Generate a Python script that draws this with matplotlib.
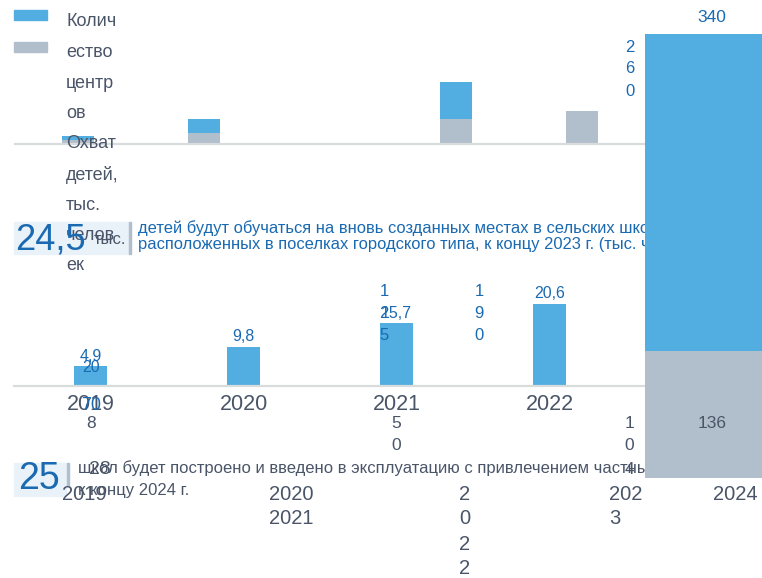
import matplotlib
matplotlib.use("Agg")
import matplotlib.pyplot as plt
from matplotlib.patches import Rectangle

plt.rcParams['font.family'] = ['Liberation Sans', 'DejaVu Sans']

# top chart: number of centers (blue) and coverage (gray), stacked
years_top = ['2019', '2020', '2021', '2022', '2023']
centers_top = [4, 14, 0, 37, 0]
coverage_top = [4, 11, 0, 25, 33]

# big 2024 bar
centers_2024 = 340
coverage_2024 = 136

# middle chart: children in new places
years_mid = ['2019', '2020', '2021', '2022']
children_new = [4.9, 9.8, 15.7, 20.6]
children_labels = ['4,9', '9,8', '15,7', '20,6']

legend_lines = ['Колич', 'ество', 'центр', 'ов', 'Охват', 'детей,', 'тыс.', 'челов', 'ек']
text_blue = ['детей будут обучаться на вновь созданных местах в сельских школах,',
             'расположенных в поселках городского типа, к концу 2023 г. (тыс. чел.)']
text_gray = ['школ будет построено и введено в эксплуатацию с привлечением частных',
             'к концу 2024 г.']

BLUE = '#52aee0'
GRAY = '#b1bfcc'
TBLUE = '#1a6ab2'
TGRAY = '#4a5568'
LINE = '#d9dcdc'

W, H = 762, 578
fig = plt.figure(figsize=(W / 100, H / 100), dpi=100)


def fx(x):
    return x / W


def fy(y):
    return 1 - y / H


def ft(x, y, s, **kw):
    kw.setdefault('va', 'center')
    fig.text(fx(x), fy(y), s, **kw)


def clean(ax):
    for s in ['top', 'right', 'left']:
        ax.spines[s].set_visible(False)
    ax.spines['bottom'].set_color(LINE)
    ax.spines['bottom'].set_linewidth(1.6)
    ax.set_xticks([])
    ax.set_yticks([])
    ax.patch.set_visible(False)


# top stacked bars
ax1 = fig.add_axes([fx(15), fy(144), 630 / W, 110 / H])
x1 = range(len(years_top))
ax1.bar(x1, coverage_top, width=0.254, color=GRAY)
ax1.bar(x1, centers_top, bottom=coverage_top, width=0.254, color=BLUE)
ax1.set_xlim(-0.5, 4.5)
ax1.set_ylim(0, 110)
clean(ax1)

# middle bars
ax2 = fig.add_axes([fx(14), fy(386), 631 / W, 120 / H])
x2 = range(len(years_mid))
ax2.bar(x2, children_new, width=0.216, color=BLUE)
ax2.set_xlim(-0.5, 3.624)
ax2.set_ylim(0, 30)
clean(ax2)
for i, v in enumerate(children_new):
    ax2.annotate(children_labels[i], (i, v), xytext=(0, 10), textcoords='offset pixels',
                 ha='center', va='center', color=TBLUE, fontsize=11.5)
    ax2.annotate(years_mid[i], (i, 0), xytext=(0, -19), textcoords='offset pixels',
                 ha='center', va='center', color=TGRAY, fontsize=15.5)

# legend
fig.patches.append(Rectangle((fx(14), fy(20)), 33 / W, 10 / H, color=BLUE, transform=fig.transFigure))
fig.patches.append(Rectangle((fx(14), fy(52)), 33 / W, 10 / H, color=GRAY, transform=fig.transFigure))
for k, s in enumerate(legend_lines):
    ft(66, 22 + k * 30.5, s, color=TGRAY, fontsize=13)

# 24,5 block
fig.patches.append(Rectangle((fx(14), fy(254)), 116 / W, 32 / H, color='#e9f1f9', transform=fig.transFigure, zorder=0))
fig.patches.append(Rectangle((fx(129), fy(254)), 2 / W, 32 / H, color=GRAY, transform=fig.transFigure, zorder=0))
ft(15, 240, '24,5', color=TBLUE, fontsize=26)
ft(94, 240, 'тыс.', color=TGRAY, fontsize=12)
ft(138, 228, text_blue[0], color=TBLUE, fontsize=11.9)
ft(138, 245, text_blue[1], color=TBLUE, fontsize=11.9)

# 25 block
fig.patches.append(Rectangle((fx(14), fy(496)), 52 / W, 33 / H, color='#e9f1f9', transform=fig.transFigure, zorder=0))
fig.patches.append(Rectangle((fx(67), fy(486)), 2 / W, 23 / H, color=GRAY, transform=fig.transFigure, zorder=0))
ft(18, 479, '25', color=TBLUE, fontsize=27)
ft(78, 468, text_gray[0], color=TGRAY, fontsize=12)
ft(78, 490, text_gray[1], color=TGRAY, fontsize=12)

# stray labels
ft(91, 367, '20', color=TBLUE, fontsize=11.5, ha='center')
ft(91, 405, '70', color=TBLUE, fontsize=13, ha='center')
ft(91, 424, '8', color=TGRAY, fontsize=12.5, ha='center')
for k, c in enumerate('125'):
    ft(384, 292 + k * 22, c, color=TBLUE, fontsize=12, ha='center')
for k, c in enumerate('190'):
    ft(479, 292 + k * 22, c, color=TBLUE, fontsize=12, ha='center')
for k, c in enumerate('260'):
    ft(630, 47 + k * 22, c, color=TBLUE, fontsize=12, ha='center')
for k, c in enumerate('50'):
    ft(396, 423 + k * 23, c, color=TGRAY, fontsize=12.5, ha='center')
for k, c in enumerate('104'):
    ft(629, 423 + k * 23, c, color=TGRAY, fontsize=12.5, ha='center')
ft(100, 470, '28', color=TGRAY, fontsize=14, ha='center')
ft(84, 494, '2019', color=TGRAY, fontsize=14.5, ha='center')
ft(291, 494, '2020', color=TGRAY, fontsize=14.5, ha='center')
ft(291, 518, '2021', color=TGRAY, fontsize=14.5, ha='center')
for k, c in enumerate('2022'):
    ft(465, 494 + k * 25, c, color=TGRAY, fontsize=14.5, ha='center')
ft(609, 494, '202', color=TGRAY, fontsize=14.5)
ft(609, 519, '3', color=TGRAY, fontsize=14.5)
ft(735, 494, '2024', color=TGRAY, fontsize=14.5, ha='center')

# big 2024 bar
ax3 = fig.add_axes([fx(645), fy(478), 117 / W, 444 / H])
ax3.bar([0], [coverage_2024], width=1.0, color=GRAY)
ax3.bar([0], [centers_2024], bottom=[coverage_2024], width=1.0, color=BLUE)
ax3.set_xlim(-0.5, 0.5)
ax3.set_ylim(0, centers_2024 + coverage_2024)
ax3.axis('off')
ax3.set_zorder(5)
ax3.annotate(str(coverage_2024), (0, 0), xytext=(9, 55), textcoords='offset pixels',
             ha='center', va='center', color=TGRAY, fontsize=12.5)
ft(712, 17, str(centers_2024), color=TBLUE, fontsize=12.5, ha='center')

fig.savefig('out.png', dpi=100)
